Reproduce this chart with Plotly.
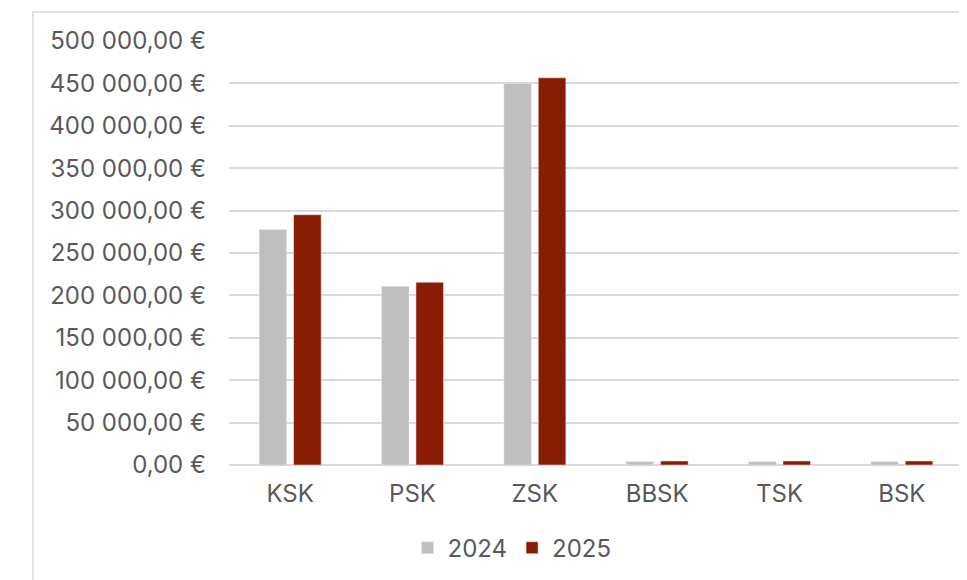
import plotly.graph_objects as go

categories = ["KSK", "PSK", "ZSK", "BBSK", "TSK", "BSK"]
values_2024 = [277700, 210700, 450000, 4000, 4000, 4000]
values_2025 = [295100, 215400, 456600, 4700, 4700, 4700]
tick_values = [0, 50000, 100000, 150000, 200000, 250000, 300000, 350000, 400000, 450000, 500000]
tick_labels = ["0,00 €", "50 000,00 €", "100 000,00 €", "150 000,00 €", "200 000,00 €",
               "250 000,00 €", "300 000,00 €", "350 000,00 €", "400 000,00 €",
               "450 000,00 €", "500 000,00 €"]

FONT = "Inter"
TXT = "#595959"
FS = 24

fig = go.Figure()
fig.add_trace(go.Bar(name="2024", x=categories, y=values_2024, marker_color="#bfbfbf"))
fig.add_trace(go.Bar(name="2025", x=categories, y=values_2025, marker_color="#8b1c04"))

fig.update_layout(
    width=967, height=580,
    margin=dict(l=221, r=12, t=33, b=123, autoexpand=False),
    paper_bgcolor="white", plot_bgcolor="white",
    barmode="group", bargap=0.437, bargroupgap=0.2,
    font=dict(family=FONT, size=FS, color=TXT),
    showlegend=True,
    legend=dict(orientation="h", x=0.3856, y=-0.196, xanchor="center", yanchor="middle",
                font=dict(family=FONT, size=FS, color=TXT), traceorder="normal"),
    xaxis=dict(showgrid=False, showline=False, ticks="", ticklabelstandoff=12,
               tickfont=dict(family=FONT, size=FS, color=TXT)),
    yaxis=dict(range=[0, 500000], tickvals=tick_values, ticktext=tick_labels,
               showgrid=True, gridcolor="#d9d9d9", gridwidth=1.5, zeroline=True,
               zerolinecolor="#d9d9d9", zerolinewidth=1.5, showline=False, ticks="",
               ticklabelstandoff=22, tickfont=dict(family=FONT, size=FS, color=TXT)),
    shapes=[dict(type="rect", xref="paper", yref="paper",
                 x0=(33 - 229) / 734, x1=1.2, y0=-0.4, y1=(465 - 12) / 424,
                 line=dict(color="#d9d9d9", width=1.5), fillcolor="rgba(0,0,0,0)", layer="below")],
)

fig.write_html("out.html")
